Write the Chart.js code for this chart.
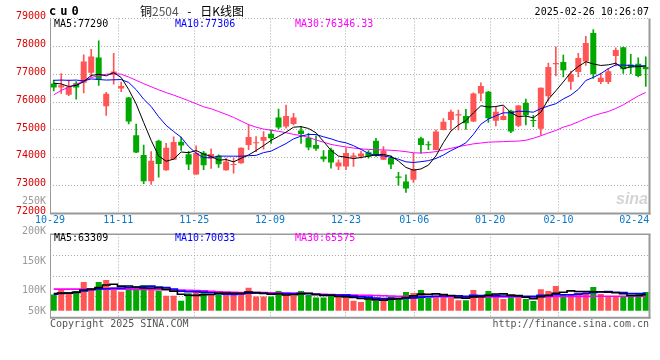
<!DOCTYPE html>
<html><head><meta charset="utf-8">
<script src="https://cdn.jsdelivr.net/npm/chart.js@4.4.1/dist/chart.umd.min.js"></script>
<style>
html,body{margin:0;padding:0;background:#fff;}
#wrap{position:relative;width:660px;height:360px;overflow:hidden;font-family:"DejaVu Sans Mono",monospace;font-size:10px;color:#000;}
canvas{position:absolute;left:0;}
.t{position:absolute;white-space:pre;line-height:12px;height:12px;}
</style></head><body>
<div id="wrap">
<canvas id="main" width="660" height="235" style="top:0"></canvas>
<canvas id="vol" width="660" height="134" style="top:226px"></canvas>
<div class="t" style="left:49px;top:5px;font-weight:bold;font-size:12px;letter-spacing:4px;">cu0</div>
<div class="t" style="left:140px;top:4px;font-family:'Noto Sans CJK SC';font-size:12px;line-height:13px;height:13px;word-spacing:6px;">铜<span style="color:#555">2504</span> - 日K线图</div>
<div class="t" style="right:11px;top:6px;">2025-02-26 10:26:07</div>
<div class="t" style="left:54px;top:18px;color:#000">MA5:77290</div>
<div class="t" style="left:175px;top:18px;color:#0000ff">MA10:77306</div>
<div class="t" style="left:295px;top:18px;color:#ff00ff">MA30:76346.33</div>
<div class="t" style="left:54px;top:232px;color:#000">MA5:63309</div>
<div class="t" style="left:175px;top:232px;color:#0000ff">MA10:70033</div>
<div class="t" style="left:295px;top:232px;color:#ff00ff">MA30:65575</div>
<div id="volLabels"></div>
<div class="t" style="left:616px;top:190px;font-family:'Liberation Sans';font-style:italic;font-weight:bold;font-size:16px;line-height:18px;height:18px;color:#d4d4d4;">sina</div>
<div class="t" style="left:50px;top:318px;color:#555">Copyright 2025 SINA.COM</div>
<div class="t" style="right:11px;top:318px;color:#555">http://finance.sina.com.cn</div>
</div>
<script>
// ---- data ----
const dates = ['10-29','10-30','10-31','11-01','11-04','11-05','11-06','11-07','11-08','11-11',
 '11-12','11-13','11-14','11-15','11-18','11-19','11-20','11-21','11-22','11-25',
 '11-26','11-27','11-28','11-29','12-02','12-03','12-04','12-05','12-06','12-09',
 '12-10','12-11','12-12','12-13','12-16','12-17','12-18','12-19','12-20','12-23',
 '12-24','12-25','12-26','12-27','12-30','12-31','01-02','01-03','01-06','01-07',
 '01-08','01-09','01-10','01-13','01-14','01-15','01-16','01-17','01-20','01-21',
 '01-22','01-23','01-24','01-27','02-05','02-06','02-07','02-10','02-11','02-12',
 '02-13','02-14','02-17','02-18','02-19','02-20','02-21','02-24','02-25','02-26'];
const labelDates = ['10-29','11-11','11-25','12-09','12-23','01-06','01-20','02-10','02-24'];
const gridDates = ['11-11','11-25','12-09','12-23','01-06','01-20','02-10'];
const priceTicks = [72000,73000,74000,75000,76000,77000,78000,79000];
const volTickLabels = ['250K','200K','150K','100K','50K'];

const open = [76670,76520,76260,76680,76690,77050,77600,75850,76980,76490,
 76160,74810,74100,73160,74610,73550,73930,74580,74130,73400,
 74180,73970,74070,73550,73740,73800,74460,74520,74610,74860,
 75450,75120,75210,74980,74720,74460,74050,74290,73690,73690,
 74010,74050,74200,74610,73930,73990,73330,73150,73210,74700,
 74490,74280,75000,75360,75520,75500,75300,76310,76370,75330,
 75360,75690,75150,75970,75360,75040,76210,77360,77440,76730,
 77080,77460,78480,76720,76720,77650,77970,77350,77380,77260];
const high = [76790,77020,76790,76740,77700,77890,78200,76350,77750,76720,
 76170,75210,74460,74220,74640,74520,74750,74740,74230,74430,
 74230,74320,74110,73990,73990,74360,75180,74760,74940,75000,
 75750,75890,75600,75120,74880,74790,74260,74350,73930,74350,
 74170,74230,74260,74700,74400,74070,73480,73390,74170,74740,
 74580,75000,75410,75710,75710,75740,76330,76690,76390,75810,
 75830,75710,75880,76110,75520,76510,77400,77980,77690,77100,
 77750,78360,78600,77030,77200,77950,77970,77710,77590,77620];
const low = [76400,76310,76230,76100,76330,76900,76600,75520,76640,76370,
 75220,74180,73070,73040,73300,73550,73930,74260,73570,73400,
 73570,73620,73650,73550,73450,73800,74290,74220,74310,74520,
 75040,75060,75180,74520,74280,74260,73870,73630,73570,73570,
 73690,73990,73990,74050,73930,73610,73010,72760,73120,74170,
 74290,74280,75000,75000,75000,75020,75300,76040,75270,75140,
 75360,74900,75120,75180,75120,74820,76040,76940,76900,76450,
 76900,77320,76850,76660,76660,77300,77030,77020,76900,76560];
const close = [76520,76600,76560,76520,77460,77640,76800,76300,77100,76580,
 75300,74190,73160,73890,73780,74360,74570,74440,73760,74170,
 73730,74140,73770,73870,73760,74360,74750,74560,74750,74700,
 75090,75500,75450,74850,74370,74320,73950,73830,73830,74170,
 74080,74150,74050,74080,74250,73760,73280,72900,73590,74460,
 74450,74940,75290,75650,75560,75240,76310,76580,75420,75650,
 75500,74940,75880,75530,75320,76510,77260,77400,77140,77000,
 77580,78120,77000,76870,77110,77870,77180,77260,76940,77180];

const ma5 = [76680,76650,76560,76600,76732,76956,76996,76942,77058,76882,
 76454,75932,75266,74624,74064,73876,73952,74208,74182,74260,
 74134,74048,73914,73936,73854,73980,74102,74260,74436,74624,
 74770,74920,75098,75118,75052,74898,74588,74264,74060,74020,
 73972,74012,74056,74106,74122,74058,73884,73654,73556,73598,
 73736,74068,74546,74958,75178,75336,75610,75868,75822,75840,
 75892,75618,75478,75500,75434,75636,76100,76404,76726,77062,
 77276,77448,77368,77314,77336,77394,77206,77258,77272,77290];
const ma10 = [76780,76790,76780,76790,76760,76830,76810,76790,76800,76807,
 76705,76444,76104,75841,75473,75165,74942,74737,74403,74162,
 74005,74000,74061,74059,74057,74057,74075,74087,74186,74239,
 74375,74511,74679,74777,74838,74834,74754,74681,74589,74536,
 74435,74300,74160,74083,74071,74015,73948,73855,73831,73860,
 73897,73976,74100,74257,74388,74536,74839,75207,75390,75509,
 75614,75614,75673,75661,75637,75764,75859,75941,76113,76248,
 76456,76774,76886,77020,77199,77335,77327,77313,77293,77306];
const ma30 = [76260,76420,76530,76640,76760,76880,76950,77000,77020,77000,
 76900,76780,76660,76550,76440,76340,76250,76150,76050,75940,
 75830,75760,75660,75560,75450,75320,75190,75100,75030,74990,
 74950,74900,74840,74800,74730,74640,74560,74480,74430,74390,
 74350,74320,74300,74290,74280,74270,74250,74220,74180,74170,
 74190,74220,74280,74340,74400,74450,74500,74530,74560,74570,
 74580,74590,74600,74630,74700,74790,74890,74980,75100,75180,
 75290,75410,75510,75590,75660,75770,75900,76060,76220,76346];

// volume in thousands (K)
const volumeK = [74,97,79,89,130,97,130,139,106,86,
 102,106,117,102,91,68,68,45,79,89,
 80,76,75,82,82,80,104,64,64,64,
 90,76,68,90,71,60,60,71,64,59,
 45,39,59,44,53,65,53,85,80,94,
 59,65,67,59,47,48,94,71,89,76,
 53,64,61,53,44,98,89,112,76,76,
 82,89,108,76,67,67,67,67,76,85];
const volMa5 = [78,80,80,84,93.8,98.4,105,117,120.4,111.6,
 112.6,107.8,103.4,102.6,103.6,96.8,89.2,74.8,70.2,69.8,
 72.2,73.8,79.8,80.4,79,79,84.6,82.4,78.8,75.2,
 77.2,71.6,72.4,77.6,79,73,69.8,70.4,65.2,62.8,
 59.8,55.6,53.2,49.2,48,52,54.8,60,67.2,75.4,
 74.2,76.6,73,68.8,59.4,57.2,63,63.8,69.8,75.6,
 76.6,70.6,68.6,61.4,55,64,69,79.2,83.8,90.2,
 87,87,86.2,86.2,84.4,81.4,77,68.8,68.8,72.4];
const volMa10 = [75,78,80,83,90,95,99,100,102,102.7,
 105.5,106.4,110.2,111.5,107.6,104.7,98.5,89.1,86.4,86.7,
 84.5,81.5,77.3,75.3,74.4,75.6,79.2,81.1,79.6,77.1,
 78.1,78.1,77.4,78.2,77.1,75.1,70.7,71.4,71.4,70.9,
 66.4,62.7,61.8,57.2,55.4,55.9,55.2,56.6,58.2,61.7,
 63.1,65.7,66.5,68,67.4,65.7,69.8,68.4,69.3,67.5,
 66.9,66.8,66.2,65.6,65.3,70.3,69.8,73.9,72.6,72.6,
 75.5,78,82.7,85,87.3,84.2,82,77.5,77.5,78.4];
const volMa30 = [98,98,98,98,98,98,98,98,98,98,
 98,97,97,97,96,96,95,94,93,92,
 90,88,86,85,84,83,83,82,82,81,
 81,80,80,79,78,76,74,73,72,72,
 71,70,70,69,68,67,66,66,65,65,
 64,64,64,63,63,63,63,63,63,63,
 63,63,63,63,63,64,64,65,65,65,
 65,65,66,66,66,66,66,66,65.6,65.6];

// ---- styles ----
const UP = '#ff5555', DOWN = '#00a800';
const GRID = '#aaaaaa', FRAME = '#999999';
const FONT = {family: 'DejaVu Sans Mono', size: 10};
const candleColor = ctx => (close[ctx.dataIndex] >= open[ctx.dataIndex] ? UP : DOWN);

const framePlugin = {
  id: 'frame',
  afterDatasetsDraw(chart, args, opts) {
    const {ctx, chartArea: a} = chart;
    ctx.save();
    ctx.setLineDash([]);
    ctx.strokeStyle = FRAME;
    ctx.lineWidth = 1;
    ctx.beginPath(); ctx.moveTo(a.left + 0.5, a.top); ctx.lineTo(a.left + 0.5, a.bottom); ctx.stroke();
    ctx.lineWidth = 2;
    ctx.beginPath(); ctx.moveTo(a.right, a.top); ctx.lineTo(a.right, a.bottom + 1); ctx.stroke();
    ctx.beginPath(); ctx.moveTo(a.left, a.bottom); ctx.lineTo(a.right + 1, a.bottom); ctx.stroke();
    if (opts.top) {
      ctx.lineWidth = 1.5;
      ctx.beginPath(); ctx.moveTo(a.left, a.top); ctx.lineTo(a.right + 1, a.top); ctx.stroke();
    }
    ctx.restore();
  }
};

function gridAxis(showLabels, h) {
  return {
    type: 'linear', position: 'bottom', min: 0, max: dates.length - 1, offset: false,
    afterBuildTicks: s => { s.ticks = labelDates.map(d => ({value: dates.indexOf(d)})); },
    afterFit: s => { s.height = h; },
    ticks: {display: showLabels, autoSkip: false, maxRotation: 0, padding: 1, color: '#0a78c8', font: FONT,
            callback: v => dates[v]},
    grid: {offset: false, drawTicks: false, lineWidth: 1,
           color: c => (c.tick && gridDates.includes(dates[c.tick.value])) ? GRID : 'rgba(0,0,0,0)'},
    border: {display: false, dash: [1, 2]}
  };
}

const lineDs = (label, data, color, order, w, stepped) => ({
  type: 'line', label, data, borderColor: color, borderWidth: w, pointRadius: 0,
  tension: 0, stepped: stepped || false, order, xAxisID: 'x', yAxisID: 'y'
});

new Chart(document.getElementById('main'), {
  type: 'bar',
  data: {
    labels: dates,
    datasets: [
      lineDs('MA5', ma5, '#000000', 0, 1),
      lineDs('MA10', ma10, '#0000ff', 1, 1),
      lineDs('MA30', ma30, '#ff00ff', 2, 1),
      {label: 'body', data: open.map((o, i) => [o, close[i]]), backgroundColor: candleColor,
       barPercentage: 0.8, categoryPercentage: 1, grouped: false, minBarLength: 1, order: 3,
       xAxisID: 'x', yAxisID: 'y'},
      {label: 'wick', data: low.map((l, i) => [l, high[i]]), backgroundColor: candleColor,
       barThickness: 1, grouped: false, order: 4, xAxisID: 'x', yAxisID: 'y'}
    ]
  },
  options: {
    responsive: false, animation: false, devicePixelRatio: 1,
    layout: {padding: {left: 0, right: 10.5, top: 18.5, bottom: 0}},
    plugins: {legend: {display: false}, tooltip: {enabled: false}, frame: {top: false}},
    scales: {
      x: {type: 'category', display: false, offset: true},
      xg: gridAxis(true, 21.5),
      y: {position: 'left', min: priceTicks[0], max: priceTicks[priceTicks.length - 1],
          afterBuildTicks: s => { s.ticks = priceTicks.map(v => ({value: v})); },
          afterFit: s => { s.width = 50; },
          ticks: {padding: 4, labelOffset: -2, color: '#dd0000', font: FONT, callback: v => String(v)},
          grid: {color: GRID, drawTicks: false},
          border: {display: false, dash: [1, 2]}}
    }
  },
  plugins: [framePlugin]
});

const VMIN = -31.8, VMAX = 347.3;
new Chart(document.getElementById('vol'), {
  type: 'bar',
  data: {
    labels: dates,
    datasets: [
      lineDs('MA5', volMa5, '#000000', 0, 1.6, 'middle'),
      lineDs('MA10', volMa10, '#0000ff', 1, 1.6, 'middle'),
      lineDs('MA30', volMa30, '#ff00ff', 2, 1.6, 'middle'),
      {label: 'vol', data: volumeK, backgroundColor: candleColor, barPercentage: 0.8,
       categoryPercentage: 1, order: 3, xAxisID: 'x', yAxisID: 'y'}
    ]
  },
  options: {
    responsive: false, animation: false, devicePixelRatio: 1,
    layout: {padding: {left: 0, right: 10.5, top: 8.3, bottom: 42.3}},
    plugins: {legend: {display: false}, tooltip: {enabled: false}, frame: {top: true}},
    scales: {
      x: {type: 'category', display: false, offset: true},
      xg: gridAxis(false, 0),
      y: {position: 'left', min: VMIN, max: VMAX,
          afterBuildTicks: s => { s.ticks = [1, 2, 3].map(k => ({value: VMIN + (VMAX - VMIN) * k / 4})); },
          afterFit: s => { s.width = 50; },
          ticks: {display: false},
          grid: {color: GRID, drawTicks: false},
          border: {display: false, dash: [1, 2]}}
    }
  },
  plugins: [framePlugin]
});

// volume axis labels (sina places them at fixed rows beside the panel)
const volLabelTops = [195, 225, 255, 284, 305];
const vl = document.getElementById('volLabels');
volTickLabels.forEach((t, i) => {
  const d = document.createElement('div');
  d.className = 't';
  d.style.cssText = 'right:614px;text-align:right;color:#999;top:' + volLabelTops[i] + 'px';
  d.textContent = t;
  vl.appendChild(d);
});
</script>
</body></html>
